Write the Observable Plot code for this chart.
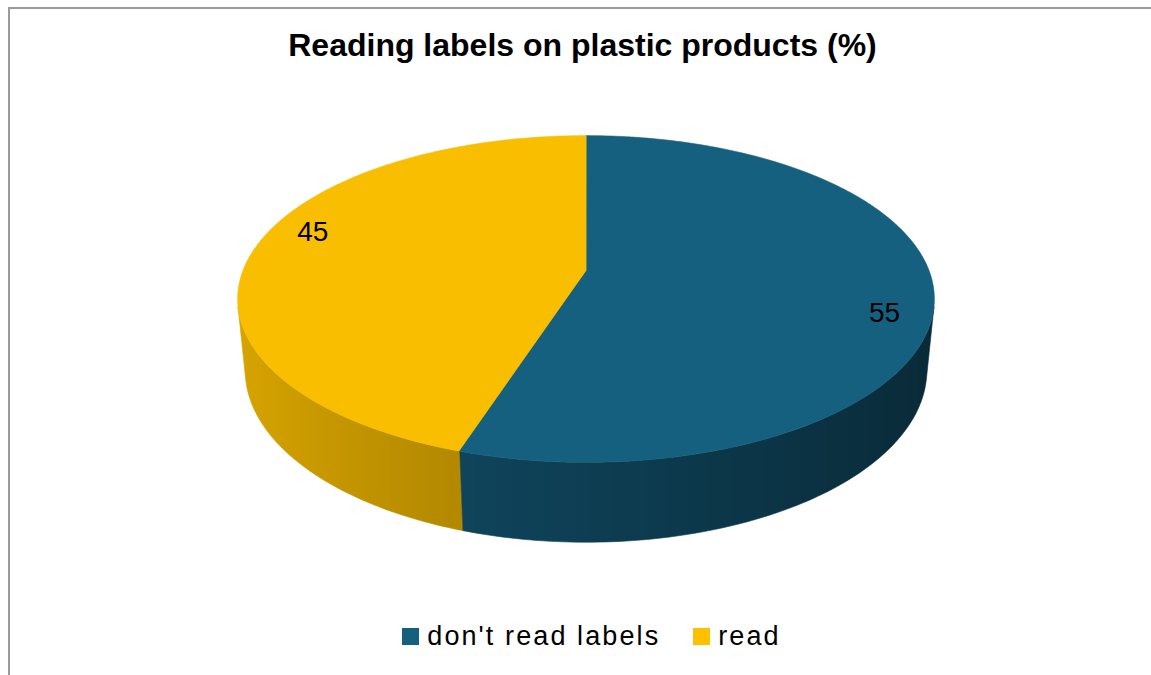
<!DOCTYPE html>
<html>
<head>
<meta charset="utf-8">
<script src="https://cdn.jsdelivr.net/npm/d3@7"></script>
<script src="https://cdn.jsdelivr.net/npm/@observablehq/plot@0.6"></script>
<style>
  html, body { margin: 0; padding: 0; background: #fff; }
  #chart { position: relative; width: 1151px; height: 675px; overflow: hidden;
           font-family: "Liberation Sans", Arial, Helvetica, sans-serif; }
  #frame { position: absolute; left: 8px; top: 7px; width: 1200px; height: 700px;
           border-left: 2px solid #9a9a9a; border-top: 2px solid #9a9a9a; }
  #title { position: absolute; left: 7px; top: 29px; width: 1151px; text-align: center;
           font-size: 32px; line-height: 32px; font-weight: bold; color: #000; }
  #plot { position: absolute; left: 0; top: 100px; }
  #legend { position: absolute; left: 29px; top: 623px; width: 1125px; text-align: center;
            font-size: 27px; line-height: 27px; letter-spacing: 2.1px; color: #000; white-space: nowrap; }
  #legend .item { display: inline-block; }
  #legend .item + .item { margin-left: 33px; }
  #legend .swatch { display: inline-block; width: 17px; height: 17px; margin-right: 8px; vertical-align: baseline; }
</style>
</head>
<body>
<div id="chart">
  <div id="frame"></div>
  <div id="title"></div>
  <div id="plot"></div>
  <div id="legend"></div>
</div>
<script>
// ---- data ----
const title = "Reading labels on plastic products (%)";
const categories = ["don't read labels", "read"];
const values = [55, 45];
const topColors = ["#155F7F", "#F9BE00"];      // lit top face
const legendColors = ["#16607F", "#FFC000"];   // legend swatches

// ---- 3D view of the disc (radius 1, top face at Y = 0) ----
const tilt = 27.5 * Math.PI / 180;  // camera elevation
const dist = 5.09;                  // camera distance, in radii
const thick = 0.236;                // disc thickness, in radii
const F = 1746;                     // focal length in pixels
const cx = 585.5, cy = 170;         // projected disc centre inside the svg
const span = 0.2;                   // half-extent of the projected domain
const labelRadius = 0.87, labelTurn = 8;

const sT = Math.sin(tilt), cT = Math.cos(tilt);
// theta: degrees clockwise from the far edge of the disc
function project(theta, r, Y) {
  const t = theta * Math.PI / 180;
  const X = r * Math.sin(t), Z = -r * Math.cos(t);
  const depth = dist - Y * sT - Z * cT;
  return {x: X / depth, y: (Y * cT - Z * sT) / depth};
}
// side lighting: brightest facing left, darkest facing right
const shade = theta => 0.65 - 0.223 * Math.sin(theta * Math.PI / 180);
const shaded = (color, k) => { const c = d3.rgb(color); return d3.rgb(c.r * k, c.g * k, c.b * k).formatHex(); };

// slices
const total = d3.sum(values);
let acc = 0;
const slices = values.map((v, i) => {
  const a0 = acc / total * 360; acc += v; const a1 = acc / total * 360;
  return {i, name: categories[i], value: v, a0, a1};
});
const steps = (a, b) => { const n = Math.max(2, Math.ceil(Math.abs(b - a))); return d3.range(n + 1).map(k => a + (b - a) * k / n); };

// top faces: centre + rim arc
const tops = slices.map(s => [project(0, 0, 0), ...steps(s.a0, s.a1).map(t => project(t, 1, 0))]);

// visible band of the side wall
const half = Math.acos(1 / (dist * cT)) * 180 / Math.PI;
const vis0 = 180 - half, vis1 = 180 + half;
const sides = slices.map(s => {
  const a = Math.max(s.a0, vis0), b = Math.min(s.a1, vis1);
  if (b <= a) return null;
  const th = steps(a, b);
  return {s, a, b, th,
          pts: [...th.map(t => project(t, 1, 0)), ...th.slice().reverse().map(t => project(t, 1, -thick))]};
});

// data labels
const labels = slices.map(s => {
  const p = project((s.a0 + s.a1) / 2 + labelTurn, labelRadius, 0);
  return {x: p.x, y: p.y, text: String(s.value)};
});

// gradients for the side walls, positioned through the x scale
function sideGradients(index, scales) {
  const defs = d3.create("svg:defs");
  sides.forEach((side, i) => {
    if (!side) return;
    const xs = side.th.map(t => scales.x(project(t, 1, 0).x));
    const x0 = d3.min(xs), x1 = d3.max(xs);
    const g = defs.append("linearGradient").attr("id", `side-${i}`)
      .attr("gradientUnits", "userSpaceOnUse")
      .attr("x1", x0).attr("x2", x1).attr("y1", 0).attr("y2", 0);
    side.th.map((t, k) => ({o: (xs[k] - x0) / (x1 - x0), c: shaded(topColors[side.s.i], shade(t))}))
      .sort((p, q) => p.o - q.o)
      .forEach(st => g.append("stop").attr("offset", st.o).attr("stop-color", st.c));
  });
  return defs.node();
}

const marks = [sideGradients];
sides.forEach((side, i) => {
  if (!side) return;
  marks.push(Plot.line(side.pts, {x: "x", y: "y", curve: "linear-closed",
    fill: `url(#side-${i})`, stroke: `url(#side-${i})`, strokeWidth: 0.6}));
});
tops.forEach((pts, i) => {
  marks.push(Plot.line(pts, {x: "x", y: "y", curve: "linear-closed",
    fill: topColors[i], stroke: topColors[i], strokeWidth: 0.6}));
});
marks.push(Plot.text(labels, {x: "x", y: "y", text: "text", fontSize: 28,
  fill: "#000", textAnchor: "middle", lineAnchor: "middle"}));

const chart = Plot.plot({
  width: 1151,
  height: 500,
  margin: 0,
  style: {fontFamily: "'Liberation Sans', Arial, sans-serif", background: "transparent", overflow: "visible"},
  x: {domain: [-span, span], range: [cx - F * span, cx + F * span], axis: null},
  y: {domain: [-span, span], range: [cy + F * span, cy - F * span], axis: null},
  marks
});
document.getElementById("plot").appendChild(chart);

// title and legend
document.getElementById("title").textContent = title;
const legend = d3.select("#legend");
categories.forEach((c, i) => {
  const item = legend.append("span").attr("class", "item");
  item.append("span").attr("class", "swatch").style("background", legendColors[i]);
  item.append("span").text(c);
});
</script>
</body>
</html>
